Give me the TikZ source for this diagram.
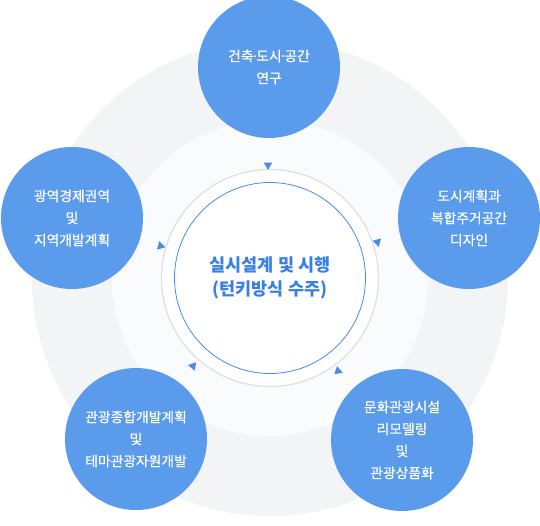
\documentclass[tikz,border=0pt]{standalone}
\usepackage{fontspec}
\usepackage{tikz}
\newfontfamily\kr{Noto Sans CJK KR}
\newfontfamily\krmid[FakeBold=0.5]{Noto Sans CJK KR}
\usetikzlibrary{calc}
\usetikzlibrary{shapes.geometric}
\definecolor{topicblue}{RGB}{90,155,235}
\definecolor{hubblue}{RGB}{70,138,240}
\definecolor{hubtext}{RGB}{58,128,228}
\definecolor{tipblue}{RGB}{74,141,232}
\definecolor{ringgray}{RGB}{243,244,246}
\definecolor{ringlight}{RGB}{250,251,253}
\definecolor{linegray}{RGB}{222,223,226}
\newcommand{\mdot}{\kern-2.5pt·\kern-2.5pt}
\tikzstyle{every node}=[font=\kr]
\tikzstyle{topic}=[circle, minimum size=142pt, inner sep=0pt, fill=topicblue, text=white, align=center, font=\krmid\fontsize{13.8}{22}\selectfont]
\tikzstyle{hub}=[align=center, text=hubtext, font=\kr\bfseries\fontsize{17.5}{24}\selectfont]
\tikzstyle{tip}=[regular polygon, regular polygon sides=3, minimum size=10pt, inner sep=0pt, fill=tipblue]

\begin{document}
\begin{tikzpicture}[x=1pt, y=-1pt]
        \useasboundingbox (0, 0) rectangle (540, 525);
        \coordinate (O) at (270, 278);

        \fill [ringgray] (O) circle (238);
        \fill [ringlight] (O) circle (158);
        \draw [line width=1.2pt, linegray, fill=white] (O) circle (108.5);
        \draw [line width=0.8pt, hubblue] (O) circle (95.5);

        \node [topic] (build) at (269, 67) {건축\mdot 도시\mdot 공간\\연구};
        \node [topic] (region) at (72, 218) {광역경제권역\\및\\지역개발계획};
        \node [topic] (urban) at (469, 218) {도시계획과\\복합주거공간\\디자인};
        \node [topic] (tour) at (136, 439) {관광종합개발계획\\및\\테마관광자원개발};
        \node [topic] (culture) at (402, 440) {문화관광시설\\리모델링\\및\\관광상품화};

        \node [hub] (hub) at (O) {실시설계 및 시행\\(턴키방식 수주)};

        \node [tip, rotate=180] (tipbuild) at (268, 165) {};
        \node [tip, rotate=-105] (tipregion) at (160.5, 246) {};
        \node [tip, rotate=75] (tipurban) at (377.5, 242) {};
        \node [tip, rotate=80] (tiptour) at (193, 366) {};
        \node [tip, rotate=10] (tipculture) at (338, 371) {};
    \end{tikzpicture}
\end{document}
